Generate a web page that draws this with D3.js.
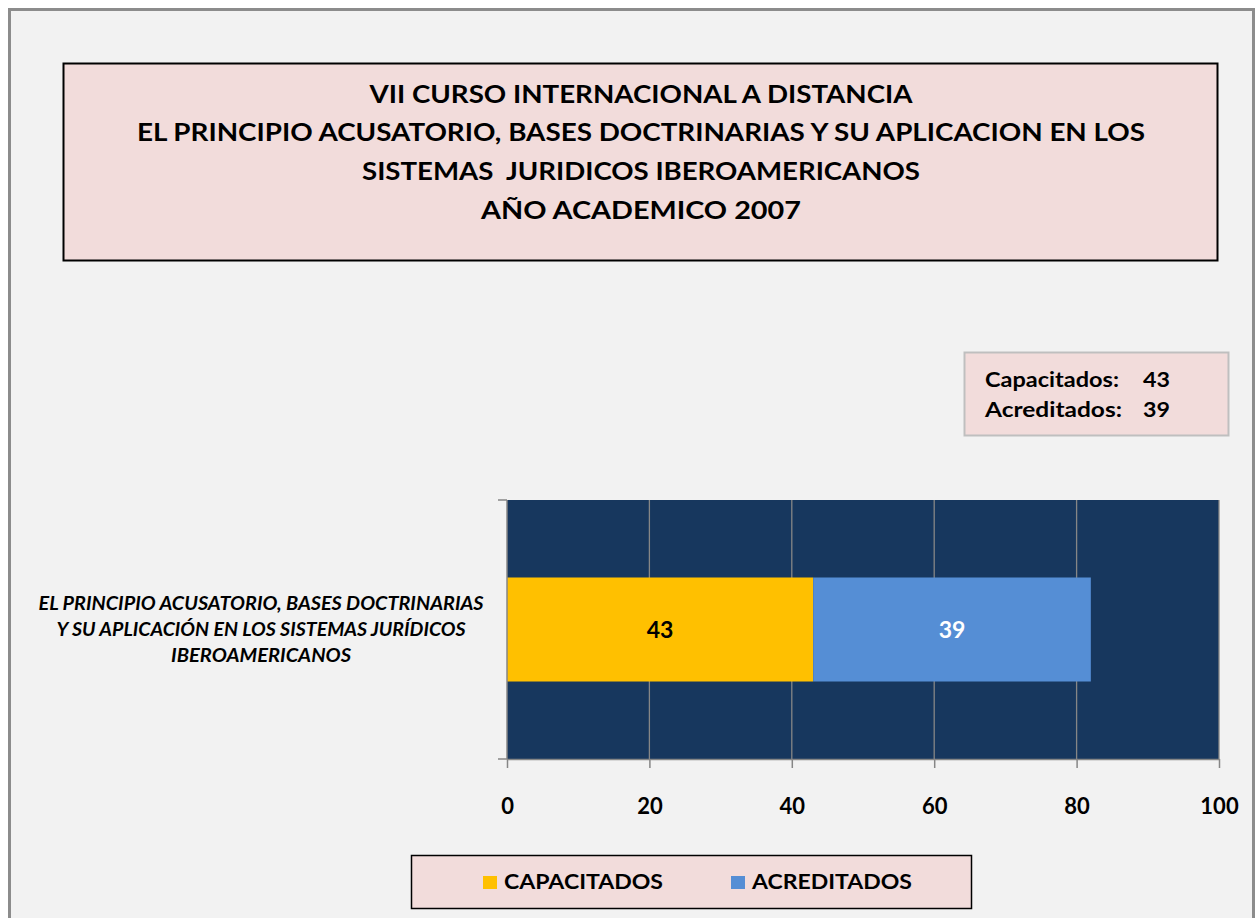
<!DOCTYPE html>
<html><head><meta charset="utf-8">
<script src="https://cdn.jsdelivr.net/npm/d3@7"></script>
<style>html,body{margin:0;padding:0;background:#fff;}svg{display:block;}</style>
</head><body>
<script>
const titleLines = ["VII CURSO INTERNACIONAL A DISTANCIA","EL PRINCIPIO ACUSATORIO, BASES DOCTRINARIAS Y SU APLICACION EN LOS","SISTEMAS  JURIDICOS IBEROAMERICANOS","AÑO ACADEMICO 2007"];
const categories = ["EL PRINCIPIO ACUSATORIO, BASES DOCTRINARIAS Y SU APLICACIÓN EN LOS SISTEMAS JURÍDICOS IBEROAMERICANOS"];
const categoryLines = ["EL PRINCIPIO ACUSATORIO, BASES DOCTRINARIAS","Y SU APLICACIÓN EN LOS SISTEMAS JURÍDICOS","IBEROAMERICANOS"];
const seriesNames = ["CAPACITADOS","ACREDITADOS"];
const capacitados = [43];
const acreditados = [39];
const xTicks = [0,20,40,60,80,100];
const statLabels = ["Capacitados:","Acreditados:"];
const statValues = [43,39];
const colors = ["#ffc000","#558ed5"];

const W=1256,H=918;
const FONT="Lato, 'Open Sans', sans-serif";
const svg=d3.select("body").append("svg").attr("width",W).attr("height",H).style("font-family",FONT);
svg.append("rect").attr("x",0).attr("y",0).attr("width",W).attr("height",H).attr("fill","#fff");
svg.append("rect").attr("x",9.5).attr("y",9.5).attr("width",1244).attr("height",920).attr("fill","#f2f2f2").attr("stroke","#8c8c8c").attr("stroke-width",3);

// title box
svg.append("rect").attr("x",63.5).attr("y",63.5).attr("width",1154).attr("height",197).attr("fill","#f2dcdb").attr("stroke","#000").attr("stroke-width",2);
const tb=[103,141,180,219];
const tw=[543,1008,558,320];
svg.selectAll(".tl").data(titleLines).enter().append("text")
 .attr("x",641).attr("y",(d,i)=>tb[i]).attr("text-anchor","middle")
 .style("white-space","pre")
 .attr("textLength",(d,i)=>tw[i]).attr("lengthAdjust","spacingAndGlyphs")
 .attr("font-weight","bold").attr("font-size",25).attr("fill","#000").text(d=>d);

// stats box
svg.append("rect").attr("x",964.5).attr("y",352.5).attr("width",264).attr("height",83).attr("fill","#f2dcdb").attr("stroke","#bfbfbf").attr("stroke-width",2);
statLabels.forEach((l,i)=>{
  const yy=[387,417][i];
  svg.append("text").attr("x",985).attr("y",yy).attr("font-size",21).attr("font-weight","bold")
    .attr("textLength",[134,137][i]).attr("lengthAdjust","spacingAndGlyphs").attr("fill","#000").text(l);
  svg.append("text").attr("x",1143).attr("y",yy).attr("font-size",21).attr("font-weight","bold")
    .attr("textLength",27).attr("lengthAdjust","spacingAndGlyphs").attr("fill","#000").text(statValues[i]);
});

// plot
const x=d3.scaleLinear().domain([0,100]).range([507,1219]);
const y=d3.scaleBand().domain(categories).range([500,759]).paddingInner(0).paddingOuter(0.745);
svg.append("rect").attr("x",x(0)).attr("y",500).attr("width",x(100)-x(0)).attr("height",259).attr("fill","#17375e");
svg.append("g").selectAll("line").data(xTicks.slice(1)).enter().append("line")
 .attr("x1",d=>x(d)).attr("x2",d=>x(d)).attr("y1",500).attr("y2",759).attr("stroke","#868686").attr("stroke-width",1.3);

const stackData=categories.map((c,i)=>({cat:c,CAPACITADOS:capacitados[i],ACREDITADOS:acreditados[i]}));
const stack=d3.stack().keys(seriesNames)(stackData);
stack.forEach((s,si)=>{
  svg.append("g").selectAll("rect").data(s).enter().append("rect")
   .attr("x",d=>x(d[0])).attr("width",d=>x(d[1])-x(d[0]))
   .attr("y",d=>y(d.data.cat)).attr("height",y.bandwidth()).attr("fill",colors[si]);
  svg.append("g").selectAll("text").data(s).enter().append("text")
   .attr("x",d=>(x(d[0])+x(d[1]))/2).attr("y",d=>y(d.data.cat)+y.bandwidth()/2+8)
   .attr("text-anchor","middle").attr("font-size",23).attr("font-weight","bold")
   .attr("fill",si===0?"#000":"#fff").text(d=>d[1]-d[0]);
});

// axes
const xa=svg.append("g").attr("transform","translate(0,759)")
 .call(d3.axisBottom(x).tickValues(xTicks).tickSize(9).tickPadding(30).tickSizeOuter(0));
xa.select(".domain").attr("stroke","#868686").attr("stroke-width",1.5);
xa.selectAll(".tick line").attr("stroke","#868686").attr("stroke-width",1.5);
xa.selectAll("text").attr("font-family",FONT).attr("font-size",22).attr("font-weight","bold").attr("fill","#000");

const ya=svg.append("g").attr("transform","translate(507,0)");
ya.append("line").attr("x1",0).attr("x2",0).attr("y1",500).attr("y2",759).attr("stroke","#868686").attr("stroke-width",1.5);
[500,759].forEach(v=>ya.append("line").attr("x1",-9).attr("x2",0).attr("y1",v).attr("y2",v).attr("stroke","#868686").attr("stroke-width",1.5));
const cw=[445,409,180];
svg.append("g").selectAll("text").data(categoryLines).enter().append("text")
 .attr("x",261).attr("y",(d,i)=>610+i*26).attr("text-anchor","middle")
 .attr("textLength",(d,i)=>cw[i]).attr("lengthAdjust","spacingAndGlyphs")
 .attr("font-size",18).attr("font-weight","bold").attr("font-style","italic").attr("fill","#000").text(d=>d);

// legend
svg.append("rect").attr("x",411.5).attr("y",855.5).attr("width",560).attr("height",53).attr("fill","#f2dcdb").attr("stroke","#000").attr("stroke-width",1.5);
const lx=[483,731];
const lw=[159,160];
seriesNames.forEach((n,i)=>{
  svg.append("rect").attr("x",lx[i]).attr("y",876).attr("width",14).attr("height",13).attr("fill",colors[i]);
  svg.append("text").attr("x",lx[i]+21).attr("y",889).attr("font-size",21).attr("font-weight","bold")
   .attr("textLength",lw[i]).attr("lengthAdjust","spacingAndGlyphs").attr("fill","#000").text(n);
});
</script>
</body></html>
